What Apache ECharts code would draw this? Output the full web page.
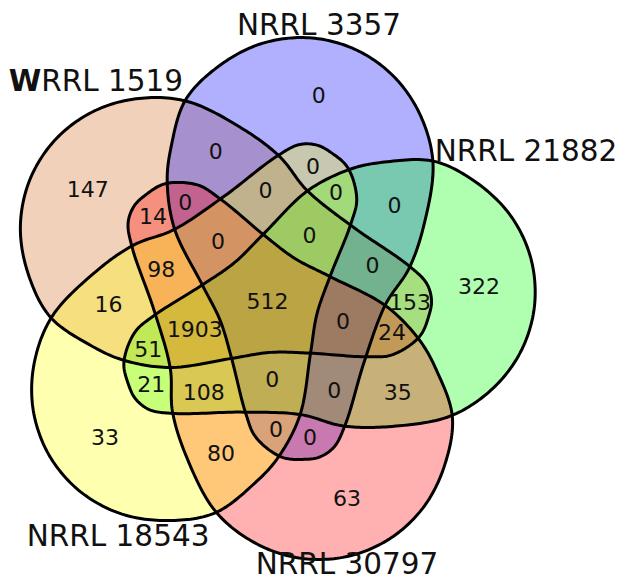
<!DOCTYPE html>
<html>
<head>
<meta charset="utf-8">
<script src="https://cdn.jsdelivr.net/npm/echarts@6/dist/echarts.min.js"></script>
<style>
  html, body { margin: 0; padding: 0; background: #ffffff; }
  #chart { width: 619px; height: 582px; }
</style>
</head>
<body>
<div id="chart"></div>
<script>
// Five strains, listed clockwise starting from the upper left
const setNames = ['WRRL 1519', 'NRRL 3357', 'NRRL 21882', 'NRRL 30797', 'NRRL 18543'];

// Region counts. Entry k of each list belongs to the region built around set k
// (indices wrap around the five sets).
const onlyOne     = [147, 0, 322, 63, 33];   // set k alone
const nextPair    = [0, 0, 35, 80, 16];      // sets k and k+1
const skipPair    = [153, 0, 21, 14, 0];     // sets k and k+2
const runTriple   = [0, 0, 108, 98, 0];      // sets k, k+1, k+2
const splitTriple = [24, 0, 51, 0, 0];       // sets k, k+2, k+3
const allButOne   = [0, 1903, 0, 0, 0];      // every set except k
const allFive     = 512;

// ---- styling ----
const setColors = ['#d2691e', '#0000ff', '#00ff00', '#ff0000', '#ffff00'];
const fillAlpha = 0.31;
const fontFamily = '"DejaVu Sans", Verdana, sans-serif';

// ---- layout: one set outline, repeated five times around the centre ----
const centre = [267.5, 301.5];
const firstAxis = 212;   // degrees (screen, clockwise) of the first set's round end
const turn = 72;
// outline of a single set as [degrees from its own axis, distance from centre]
const outline = [
  [-66, 118], [-54, 156], [-46, 182], [-36, 218],
  [-25, 241.7], [-15, 258.4], [-5, 267], [5, 267], [15, 258.4], [25, 241.7],
  [36, 216], [50, 174], [63, 145], [77.5, 118], [108, 114],
  [133.4, 145], [141.4, 160], [147.5, 164], [153, 162], [161, 156],
  [171, 136], [177, 114], [198.5, 67], [234, 51], [270, 67]
];
// where each group's number sits, relative to the axis of its set k
const spotOnlyOne     = [0, 212];
const spotNextPair    = [39, 159];
const spotSkipPair    = [148.6, 142.5];
const spotRunTriple   = [129, 111];
const spotSplitTriple = [162.2, 128.4];
const spotAllButOne   = [234.6, 78];
// strain names, relative to each set's axis
const nameSpots = [[20.1, 279.3], [-3.45, 281.3], [-26.2, 299.1], [5.15, 274.3], [-17.5, 278.1]];

function polar(k, deg, r) {
  const a = (firstAxis + k * turn + deg) * Math.PI / 180;
  return [centre[0] + r * Math.cos(a), centre[1] + r * Math.sin(a)];
}

// centripetal Catmull-Rom through a closed ring of points
function smoothRing(pts, samples) {
  const n = pts.length, out = [];
  const d = (p, q) => Math.pow(Math.hypot(q[0] - p[0], q[1] - p[1]), 0.5) || 1e-6;
  const mix = (p, q, wp, wq) => [p[0] * wp + q[0] * wq, p[1] * wp + q[1] * wq];
  for (let i = 0; i < n; i++) {
    const p0 = pts[(i - 1 + n) % n], p1 = pts[i], p2 = pts[(i + 1) % n], p3 = pts[(i + 2) % n];
    const t0 = 0, t1 = t0 + d(p0, p1), t2 = t1 + d(p1, p2), t3 = t2 + d(p2, p3);
    for (let s = 0; s < samples; s++) {
      const t = t1 + (t2 - t1) * s / samples;
      const a1 = mix(p0, p1, (t1 - t) / (t1 - t0), (t - t0) / (t1 - t0));
      const a2 = mix(p1, p2, (t2 - t) / (t2 - t1), (t - t1) / (t2 - t1));
      const a3 = mix(p2, p3, (t3 - t) / (t3 - t2), (t - t2) / (t3 - t2));
      const b1 = mix(a1, a2, (t2 - t) / (t2 - t0), (t - t0) / (t2 - t0));
      const b2 = mix(a2, a3, (t3 - t) / (t3 - t1), (t - t1) / (t3 - t1));
      out.push(mix(b1, b2, (t2 - t) / (t2 - t1), (t - t1) / (t2 - t1)));
    }
  }
  return out;
}

function setRing(k) {
  return smoothRing(outline.map(p => polar(k, p[0], p[1])), 16);
}

// numbers placed in every region
const labelData = [];
const groups = [
  [onlyOne, spotOnlyOne], [nextPair, spotNextPair], [skipPair, spotSkipPair],
  [runTriple, spotRunTriple], [splitTriple, spotSplitTriple], [allButOne, spotAllButOne]
];
groups.forEach(([counts, spot]) => {
  counts.forEach((c, k) => {
    labelData.push({ value: polar(k, spot[0], spot[1]).concat([c]) });
  });
});
labelData.push({ value: centre.concat([allFive]) });

const nameData = setNames.map((name, k) => ({ value: polar(k, nameSpots[k][0], nameSpots[k][1]).concat([k]) }));
const setData = setNames.map((name, k) => ({ value: [k], name: name }));

function hexToRgba(hex, a) {
  const v = parseInt(hex.slice(1), 16);
  return 'rgba(' + (v >> 16 & 255) + ',' + (v >> 8 & 255) + ',' + (v & 255) + ',' + a + ')';
}

const chart = echarts.init(document.getElementById('chart'), null, { renderer: 'svg' });
chart.setOption({
  animation: false,
  backgroundColor: '#ffffff',
  grid: { left: 0, right: 0, top: 0, bottom: 0 },
  xAxis: { type: 'value', min: 0, max: 619, show: false },
  yAxis: { type: 'value', min: 0, max: 582, inverse: true, show: false },
  series: [
    {
      type: 'custom', name: 'fill', silent: true, z: 1,
      data: setData,
      renderItem: (params, api) => {
        const k = api.value(0);
        return {
          type: 'polygon',
          shape: { points: setRing(k).map(p => api.coord(p)) },
          style: { fill: hexToRgba(setColors[k], fillAlpha), stroke: 'none' }
        };
      }
    },
    {
      type: 'custom', name: 'outline', silent: true, z: 2,
      data: setData,
      renderItem: (params, api) => {
        const k = api.value(0);
        return {
          type: 'polygon',
          shape: { points: setRing(k).map(p => api.coord(p)) },
          style: { fill: 'none', stroke: '#000000', lineWidth: 3, lineJoin: 'round' }
        };
      }
    },
    {
      type: 'custom', name: 'counts', silent: true, z: 3,
      data: labelData,
      renderItem: (params, api) => {
        const p = api.coord([api.value(0), api.value(1)]);
        return {
          type: 'text', x: p[0], y: p[1],
          style: {
            text: String(api.value(2)), fill: '#111111',
            font: '22px ' + fontFamily, align: 'center', verticalAlign: 'middle'
          }
        };
      }
    },
    {
      type: 'custom', name: 'names', silent: true, z: 3,
      data: nameData,
      renderItem: (params, api) => {
        const p = api.coord([api.value(0), api.value(1)]);
        const k = api.value(2);
        const name = setNames[k];
        const text = k === 0 ? '{w|' + name.charAt(0) + '}{n|' + name.slice(1) + '}' : name;
        return {
          type: 'text', x: p[0], y: p[1],
          style: {
            text: text, fill: '#111111',
            font: '29.5px ' + fontFamily, align: 'center', verticalAlign: 'middle',
            rich: {
              w: { fontFamily: fontFamily, fontSize: 29.5, fontWeight: 'bold', fill: '#111111' },
              n: { fontFamily: fontFamily, fontSize: 29.5, fill: '#111111' }
            }
          }
        };
      }
    }
  ]
});
</script>
</body>
</html>
